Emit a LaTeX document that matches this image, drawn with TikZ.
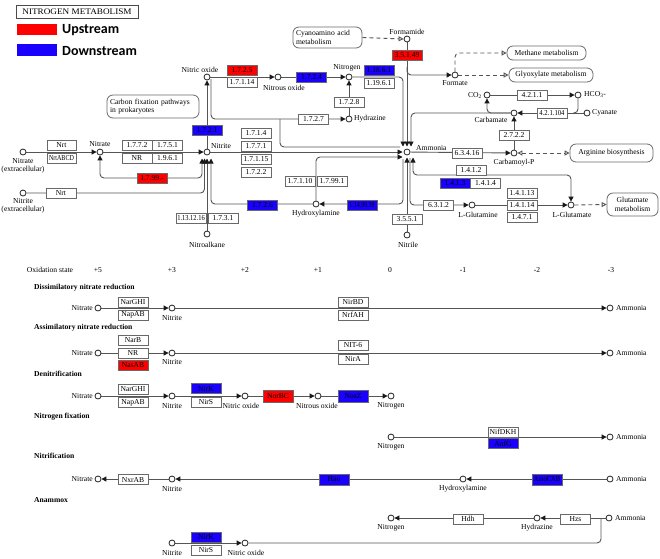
\documentclass[tikz,border=0pt]{standalone}
\usepackage{fontspec}
\setmainfont{Liberation Serif}
\newfontfamily\legfont{Carlito}
\usepackage{graphicx}
\usetikzlibrary{arrows.meta,calc,backgrounds}
\definecolor{kred}{RGB}{255,0,0}
\definecolor{kblue}{RGB}{25,0,255}
\definecolor{lc}{RGB}{85,85,85}
\definecolor{bc}{RGB}{105,105,105}
\newcommand\sq[2][0.8]{\scalebox{#1}[1]{#2}}
\tikzset{
  cpd/.style={circle,draw=black!85,line width=0.8pt,fill=white,inner sep=0pt,minimum size=6pt},
  lab/.style={font=\fontsize{7.6}{8.2}\selectfont,inner sep=0pt,align=center},
  enz/.style={draw=bc,line width=0.8pt,fill=white,minimum width=30pt,minimum height=10pt,inner sep=0pt,font=\fontsize{7.6}{8}\selectfont},
  upbox/.style={enz,fill=kred},
  dnbox/.style={enz,fill=kblue},
  mapbox/.style={draw=bc,line width=0.8pt,rounded corners=6pt,fill=white,inner xsep=3pt,inner ysep=0pt,font=\fontsize{7.6}{8.4}\selectfont},
  ln/.style={draw=lc,line width=0.9pt,rounded corners=4pt},
  arr/.style={-{Triangle[length=5pt,width=5pt,color=black!90]}},
  barr/.style={{Triangle[length=5pt,width=5pt,color=black!90]}-{Triangle[length=5pt,width=5pt,color=black!90]}},
  dsh/.style={draw=lc,line width=0.9pt,dash pattern=on 4pt off 3pt,rounded corners=4pt},
  oarr/.style={-{Triangle[open,length=5pt,width=5pt]}},
  boarr/.style={{Triangle[open,length=5pt,width=5pt]}-{Triangle[open,length=5pt,width=5pt]}},
  hd/.style={font=\bfseries\fontsize{7.6}{8}\selectfont,anchor=west,inner sep=0pt},
}
\begin{document}
\begin{tikzpicture}[x=1pt,y=-1pt]
\useasboundingbox (0,0) rectangle (660,558);
\begin{scope}[on background layer]
\fill[white] (0,0) rectangle (660,558);
\end{scope}

% ---------- title and legend ----------
\node[draw=black!70,line width=0.8pt,minimum width=122pt,minimum height=13pt,inner sep=0pt,font=\fontsize{8.5}{9}\selectfont] (title) at (77,11.5) {\scalebox{1.08}[1]{NITROGEN METABOLISM}};
\node[fill=kred,minimum width=40pt,minimum height=11pt,inner sep=0pt] (legup) at (37,29.5) {};
\node[fill=kblue,minimum width=40pt,minimum height=12pt,inner sep=0pt] (legdn) at (37,50) {};
\node[anchor=west,inner sep=0pt,font=\legfont\bfseries\fontsize{14}{14}\selectfont] (leguptxt) at (62,30.5) {Upstream};
\node[anchor=west,inner sep=0pt,font=\legfont\bfseries\fontsize{14}{14}\selectfont] (legdntxt) at (62,51) {Downstream};

% ---------- map boxes ----------
\node[mapbox,minimum height=23pt,text width=86pt,align=left] (carbfix) at (153,106.5) {Carbon fixation pathways\\in prokaryotes};
\node[mapbox,minimum height=21pt,text width=63pt,align=left] (cyano) at (327.5,37.5) {Cyanoamino acid\\metabolism};
\node[mapbox,minimum height=14pt,minimum width=79pt,align=center] (methane) at (546.5,53) {Methane metabolism};
\node[mapbox,minimum height=14pt,minimum width=84pt,align=center] (glyox) at (551,75) {Glyoxylate metabolism};
\node[mapbox,minimum height=18pt,minimum width=83pt,align=center] (arg) at (611.5,153) {Arginine biosynthesis};
\node[mapbox,minimum height=23pt,minimum width=51pt,align=center] (glumet) at (632.5,204.5) {Glutamate\\metabolism};

% ---------- compounds (top map) ----------
\node[cpd] (no) at (207,77) {};
\node[cpd] (n2o) at (278,77) {};
\node[cpd] (n2) at (349,77) {};
\node[cpd] (hz) at (349,119) {};
\node[cpd] (fam) at (407,39) {};
\node[cpd] (fmt) at (455,75) {};
\node[cpd] (co2) at (487,95) {};
\node[cpd] (hco3) at (578,95) {};
\node[cpd] (cyan) at (587,113) {};
\node[cpd] (carb) at (514,113) {};
\node[cpd] (cbp) at (514,153) {};
\node[cpd] (amm) at (407,152) {};
\node[cpd] (nrte) at (23,152) {};
\node[cpd] (nat) at (100,152) {};
\node[cpd] (nit) at (207,152) {};
\node[cpd] (nite) at (23,193) {};
\node[cpd] (nalk) at (207,234) {};
\node[cpd] (hxa) at (316,204) {};
\node[cpd] (ntrl) at (407,235) {};
\node[cpd] (gln) at (472,205) {};
\node[cpd] (glu) at (571,205) {};

% labels
\node[lab] (l-no) at (200,70) {Nitric oxide};
\node[lab] (l-n2o) at (284,88) {Nitrous oxide};
\node[lab] (l-n2) at (347,68) {Nitrogen};
\node[lab,anchor=west] (l-hz) at (354,119) {Hydrazine};
\node[lab] (l-fam) at (407,32) {Formamide};
\node[lab] (l-fmt) at (455,83) {Formate};
\node[lab,anchor=east] (l-co2) at (482,95) {CO\textsubscript{2}};
\node[lab,anchor=west] (l-hco3) at (584,95) {HCO\textsubscript{3}-};
\node[lab,anchor=west] (l-cyan) at (592,113) {Cyanate};
\node[lab] (l-carb) at (491,119.5) {Carbamate};
\node[lab] (l-cbp) at (514,163) {Carbamoyl-P};
\node[lab,anchor=west] (l-amm) at (416,148.5) {Ammonia};
\node[lab] (l-nrte) at (23,165.5) {Nitrate\\(extracellular)};
\node[lab] (l-nat) at (100,144) {Nitrate};
\node[lab] (l-nit) at (221,146.5) {Nitrite};
\node[lab] (l-nite) at (23,206) {Nitrite\\(extracellular)};
\node[lab] (l-nalk) at (207,245) {Nitroalkane};
\node[lab] (l-hxa) at (316,214) {Hydroxylamine};
\node[lab] (l-ntrl) at (408,245) {Nitrile};
\node[lab] (l-gln) at (478,215) {L-Glutamine};
\node[lab] (l-glu) at (572,215) {L-Glutamate};

% ---------- connectors (top map) ----------
\coordinate (j727) at (280,119);
\begin{scope}[on background layer]
\draw[ln,arr] (no) -- (n2o);
\draw[ln,arr] (n2o) -- (n2);
\draw[ln,arr] (n2.east) -- ($(n2)+(54,0)$) -- ($(amm)+(-4,-5.5)$);
\draw[ln,arr] (hz) -- (n2);
\draw[ln,arr] ($(no)+(4,2)$) |- (hz.west);
\draw[ln] ($(amm)+(-7,-5)$) -| (j727);
\draw[ln,arr] (nit) -- ($(amm)+(-4.5,0)$);
\draw[ln,arr] (hxa.north) |- ($(amm)+(-4.5,5)$);
\draw[ln,arr] ($(amm)+(-4,7)$) |- (hxa.east);
\draw[ln,arr] (hxa.west) -| ($(nit)+(4,6.5)$);
\draw[ln,arr] (nalk) -- ($(nit)+(0,6.5)$);
\draw[ln,arr] (nite.east) -| ($(nit)+(-2.5,6.5)$);
\draw[ln,barr] ($(nit)+(-5,6.5)$) |- ($(nat)+(0,26)$) -- (nat.south);
\draw[ln,arr] (nrte) -- (nat);
\draw[ln,arr] (nat) -- (nit);
\draw[ln,arr] (nit) -- (no);
\draw[ln,arr] (fam) -- ($(amm)+(0,-5.5)$);
\draw[ln,arr] ($(fam)+(0,28)$) |- (fmt.west);
\draw[dsh,oarr] (cyano.east) -- (fam.west);
\draw[dsh,oarr] (fmt.north) |- (methane.west);
\draw[dsh,oarr] (fmt.east) -- (glyox.west);
\draw[ln,arr] (co2) -- (hco3);
\draw[ln] (hco3.south) |- ($(cyan)+(-14,0)$);
\draw[ln,arr] (cyan) -- (carb);
\draw[ln,arr] (carb.west) -| (co2.south);
\draw[ln,arr] (carb.west) -| ($(amm)+(4,-5.5)$);
\draw[ln,arr] (cbp) -- (carb);
\draw[ln,arr] (amm) -- (cbp);
\draw[dsh,boarr] (cbp.east) -- (arg.west);
\draw[ln,barr] ($(amm)+(6,5.5)$) |- ($(glu)+(0,-30)$) -- (glu.north);
\draw[ln,arr] ($(amm)+(3,6)$) |- (gln.west);
\draw[ln,arr] (gln) -- (glu);
\draw[dsh,oarr] (glu.east) -- (glumet.west);
\draw[ln,arr] (ntrl) -- ($(amm)+(0,5.5)$);
\end{scope}

% ---------- enzymes (top map) ----------
\node[upbox] (e1725) at (242,70) {1.7.2.5};
\node[enz] (e17114) at (242,82.5) {1.7.1.14};
\node[dnbox] (e1724) at (311.5,77) {1.7.2.4};
\node[dnbox] (e11861) at (379,70) {1.18.6.1};
\node[enz] (e11961) at (379,83) {1.19.6.1};
\node[enz] (e1728) at (349,102.5) {1.7.2.8};
\node[enz] (e1727) at (313.5,119) {1.7.2.7};
\node[upbox] (e35149) at (407,55.5) {3.5.1.49};
\node[enz] (e4211) at (532,95) {4.2.1.1};
\node[enz] (e421104) at (552,113) {\sq[0.88]{4.2.1.104}};
\node[enz] (e2722) at (514,135) {2.7.2.2};
\node[enz] (e63416) at (467,153) {6.3.4.16};
\node[enz] (e1412) at (471,170) {1.4.1.2};
\node[dnbox] (e1413) at (455,183.5) {1.4.1.3};
\node[enz] (e1414) at (485.5,183.5) {1.4.1.4};
\node[enz] (e14113) at (522,193) {1.4.1.13};
\node[enz] (e14114) at (522,205) {1.4.1.14};
\node[enz] (e1471) at (522,217.5) {1.4.7.1};
\node[enz] (e6312) at (438.5,205.5) {6.3.1.2};
\node[enz] (e3551) at (407,219.5) {3.5.5.1};
\node[enz] (e17110) at (300,181) {1.7.1.10};
\node[enz] (e17991) at (332,181) {1.7.99.1};
\node[dnbox] (e1721) at (207,130.5) {1.7.2.1};
\node[enz] (e1714) at (256,133) {1.7.1.4};
\node[enz] (e1771) at (256,146) {1.7.7.1};
\node[enz] (e17115) at (256,159) {1.7.1.15};
\node[enz] (e1722) at (256,172) {1.7.2.2};
\node[enz] (e1772) at (137,145.5) {1.7.7.2};
\node[enz] (e1751) at (167.5,145.5) {1.7.5.1};
\node[enz] (eNR) at (137,158.5) {NR};
\node[enz] (e1961) at (167.5,158.5) {1.9.6.1};
\node[enz,minimum width=29pt] (eNrt1) at (61.5,145.5) {Nrt};
\node[enz,minimum width=29pt] (eNrtABCD) at (61.5,158) {\sq{NrtABCD}};
\node[upbox] (e17995) at (152,178) {1.7.99.-};
\node[enz] (eNrt2) at (61,193.5) {Nrt};
\node[enz] (e1131216) at (191,218) {\sq[0.85]{1.13.12.16}};
\node[enz] (e1731) at (223,218) {1.7.3.1};
\node[dnbox] (e1726) at (262.5,205) {1.7.2.6};
\node[dnbox] (e1149939) at (362,205) {\sq[0.78]{1.14.99.39}};

% ---------- oxidation states ----------
\node[lab] (ox) at (50,270) {Oxidation state};
\node[lab] (ox5) at (98,270) {+5};
\node[lab] (ox3) at (172,270) {+3};
\node[lab] (ox2) at (245,270) {+2};
\node[lab] (ox1) at (318,270) {+1};
\node[lab] (ox0) at (390,270) {0};
\node[lab] (oxm1) at (463,270) {-1};
\node[lab] (oxm2) at (537,270) {-2};
\node[lab] (oxm3) at (611,270) {-3};

% ---------- module headers ----------
\node[hd] (h1) at (34,288) {Dissimilatory nitrate reduction};
\node[hd] (h2) at (34,328) {Assimilatory nitrate reduction};
\node[hd] (h3) at (34,374) {Denitrification};
\node[hd] (h4) at (34,417) {Nitrogen fixation};
\node[hd] (h5) at (34,456) {Nitrification};
\node[hd] (h6) at (34,500) {Anammox};

% ---------- dissimilatory ----------
\node[cpd] (d-nat) at (98,308) {};
\node[cpd] (d-nit) at (172,308) {};
\node[cpd] (d-amm) at (610,308) {};
\node[lab,anchor=east] (ld-nat) at (93,308) {Nitrate};
\node[lab] (ld-nit) at (172,318.5) {Nitrite};
\node[lab,anchor=west] (ld-amm) at (616,308) {Ammonia};
\begin{scope}[on background layer]
\draw[ln,arr] (d-nat) -- (d-nit);
\draw[ln,arr] (d-nit) -- (d-amm);
\end{scope}
\node[enz] (d-e1) at (133,302) {NarGHI};
\node[enz] (d-e2) at (133,315) {NapAB};
\node[enz] (d-e3) at (353,302) {NirBD};
\node[enz] (d-e4) at (353,315) {NrfAH};

% ---------- assimilatory ----------
\node[cpd] (a-nat) at (98,353) {};
\node[cpd] (a-nit) at (172,353) {};
\node[cpd] (a-amm) at (610,353) {};
\node[lab,anchor=east] (la-nat) at (93,353) {Nitrate};
\node[lab] (la-nit) at (172,362.5) {Nitrite};
\node[lab,anchor=west] (la-amm) at (616,353) {Ammonia};
\begin{scope}[on background layer]
\draw[ln,arr] (a-nat) -- (a-nit);
\draw[ln,arr] (a-nit) -- (a-amm);
\end{scope}
\node[enz] (a-e1) at (133,340) {NarB};
\node[enz] (a-e2) at (133,353) {NR};
\node[upbox] (a-e3) at (133,365) {NasAB};
\node[enz] (a-e4) at (353,345.5) {NIT-6};
\node[enz] (a-e5) at (353,359) {NirA};

% ---------- denitrification ----------
\node[cpd] (dn-nat) at (98,396) {};
\node[cpd] (dn-nit) at (172,396) {};
\node[cpd] (dn-no) at (245,396) {};
\node[cpd] (dn-n2o) at (318,396) {};
\node[cpd] (dn-n2) at (391,396) {};
\node[lab,anchor=east] (ldn-nat) at (93,396) {Nitrate};
\node[lab] (ldn-nit) at (172,406) {Nitrite};
\node[lab] (ldn-no) at (241,406) {Nitric oxide};
\node[lab] (ldn-n2o) at (317,406) {Nitrous oxide};
\node[lab] (ldn-n2) at (391,406) {Nitrogen};
\begin{scope}[on background layer]
\draw[ln,arr] (dn-nat) -- (dn-nit);
\draw[ln,arr] (dn-nit) -- (dn-no);
\draw[ln,arr] (dn-no) -- (dn-n2o);
\draw[ln,arr] (dn-n2o) -- (dn-n2);
\end{scope}
\node[enz] (dn-e1) at (133,389) {NarGHI};
\node[enz] (dn-e2) at (133,402.5) {NapAB};
\node[dnbox] (dn-e3) at (206,388.5) {NirK};
\node[enz] (dn-e4) at (206,402.5) {NirS};
\node[upbox,minimum height=12pt] (dn-e5) at (278,396) {NorBC};
\node[dnbox,minimum height=12pt] (dn-e6) at (353,396) {NosZ};

% ---------- nitrogen fixation ----------
\node[cpd] (nf-n2) at (391,437) {};
\node[cpd] (nf-amm) at (610,437) {};
\node[lab] (lnf-n2) at (391,447) {Nitrogen};
\node[lab,anchor=west] (lnf-amm) at (616,437) {Ammonia};
\begin{scope}[on background layer]
\draw[ln,arr] (nf-n2) -- (nf-amm);
\end{scope}
\node[enz] (nf-e1) at (503,432) {NifDKH};
\node[dnbox] (nf-e2) at (503,443.5) {AnfG};

% ---------- nitrification ----------
\node[cpd] (ni-nat) at (98,479) {};
\node[cpd] (ni-nit) at (172,479) {};
\node[cpd] (ni-hxa) at (463,479) {};
\node[cpd] (ni-amm) at (610,479) {};
\node[lab,anchor=east] (lni-nat) at (93,479) {Nitrate};
\node[lab] (lni-nit) at (172,489) {Nitrite};
\node[lab] (lni-hxa) at (463,489) {Hydroxylamine};
\node[lab,anchor=west] (lni-amm) at (616,479) {Ammonia};
\begin{scope}[on background layer]
\draw[ln,arr] (ni-nit) -- (ni-nat);
\draw[ln,arr] (ni-hxa) -- (ni-nit);
\draw[ln,arr] (ni-amm) -- (ni-hxa);
\end{scope}
\node[enz] (ni-e1) at (133,479.5) {NxrAB};
\node[dnbox,minimum height=11pt] (ni-e2) at (334,479.5) {Hao};
\node[dnbox,minimum height=11pt] (ni-e3) at (547,479.5) {\sq[0.85]{AmoCAB}};

% ---------- anammox ----------
\node[cpd] (an-nit) at (172,543) {};
\node[cpd] (an-no) at (245,543) {};
\node[cpd] (an-n2) at (391,518) {};
\node[cpd] (an-hz) at (537,518) {};
\node[cpd] (an-amm) at (609,518) {};
\node[lab] (lan-nit) at (172,553) {Nitrite};
\node[lab] (lan-no) at (246,553) {Nitric oxide};
\node[lab] (lan-n2) at (391,528) {Nitrogen};
\node[lab] (lan-hz) at (537,528) {Hydrazine};
\node[lab,anchor=west] (lan-amm) at (615,518) {Ammonia};
\begin{scope}[on background layer]
\draw[ln,arr] (an-nit) -- (an-no);
\draw[ln,arr] (an-amm) -- (an-hz);
\draw[ln,arr] (an-hz) -- (an-n2);
\draw[ln] (an-no.east) -| ($(an-amm)+(-8,0)$);
\end{scope}
\node[dnbox] (an-e1) at (206,537) {NirK};
\node[enz] (an-e2) at (206,550) {NirS};
\node[enz] (an-e3) at (468,519) {Hdh};
\node[enz] (an-e4) at (575.5,519) {Hzs};
\end{tikzpicture}
\end{document}
